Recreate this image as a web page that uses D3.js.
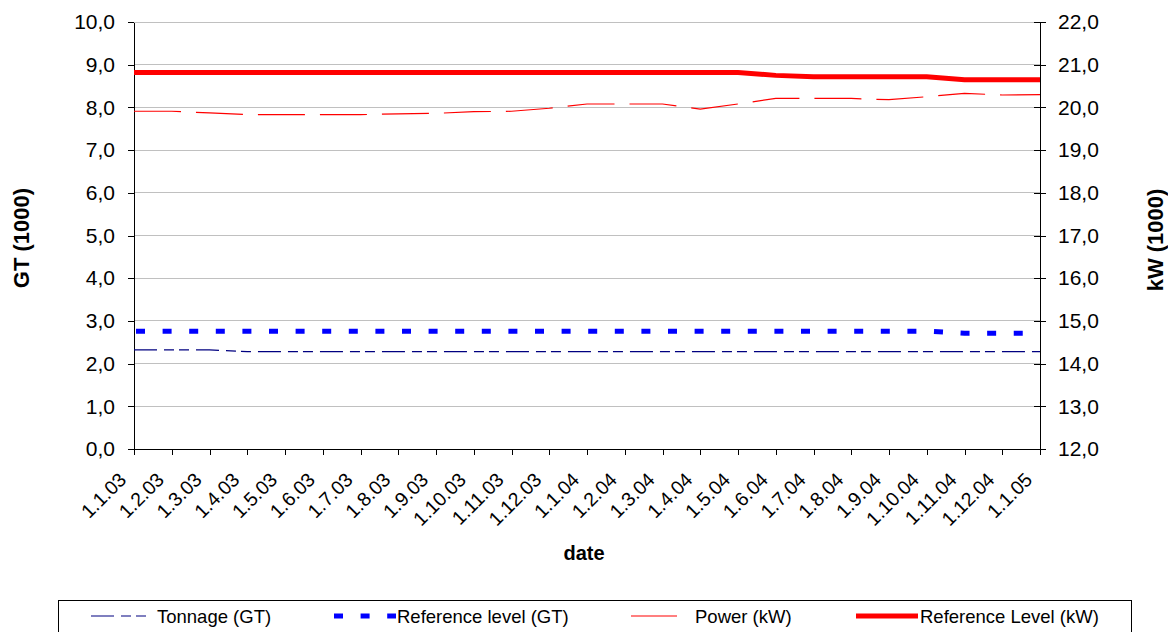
<!DOCTYPE html>
<html><head><meta charset="utf-8">
<script src="https://cdn.jsdelivr.net/npm/d3@7"></script>
<style>
html,body{margin:0;padding:0;background:#fff;}
svg{display:block;font-family:"Liberation Sans",Arial,sans-serif;}
</style></head>
<body>
<svg id="chart" width="1168" height="632"></svg>
<script>
const dates = ["1.1.03","1.2.03","1.3.03","1.4.03","1.5.03","1.6.03","1.7.03","1.8.03","1.9.03","1.10.03","1.11.03","1.12.03",
  "1.1.04","1.2.04","1.3.04","1.4.04","1.5.04","1.6.04","1.7.04","1.8.04","1.9.04","1.10.04","1.11.04","1.12.04","1.1.05"];
const tonnageGT = [2.32,2.32,2.32,2.28,2.28,2.28,2.28,2.28,2.28,2.28,2.28,2.28,2.28,2.28,2.28,2.28,2.28,2.28,2.28,2.28,2.28,2.28,2.28,2.28,2.28];
const referenceGT = [2.76,2.76,2.76,2.76,2.76,2.76,2.76,2.76,2.76,2.76,2.76,2.76,2.76,2.76,2.76,2.76,2.76,2.76,2.76,2.76,2.76,2.76,2.71,2.71,2.71];
const powerKW = [19.91,19.91,19.87,19.83,19.83,19.83,19.83,19.85,19.86,19.90,19.91,19.98,20.08,20.08,20.08,19.96,20.08,20.21,20.21,20.21,20.18,20.25,20.33,20.29,20.30];
const referenceKW = [20.82,20.82,20.82,20.82,20.82,20.82,20.82,20.82,20.82,20.82,20.82,20.82,20.82,20.82,20.82,20.82,20.82,20.75,20.72,20.72,20.72,20.72,20.65,20.65,20.65];
const leftTicks = [0,1,2,3,4,5,6,7,8,9,10];
const rightTicks = [12,13,14,15,16,17,18,19,20,21,22];
const legendLabels = ["Tonnage (GT)","Reference level (GT)","Power (kW)","Reference Level (kW)"];

const svg = d3.select("#chart");
const L = 134, R = 1040, T = 22, B = 449;
const fmt = v => d3.format(".1f")(v).replace(".", ",");
const FONT = '"Liberation Sans",Arial,sans-serif';

const x = d3.scalePoint().domain(dates).range([L, R]);
const yL = d3.scaleLinear().domain([0, 10]).range([B, T]);
const yR = d3.scaleLinear().domain([12, 22]).range([B, T]);

// gridlines
svg.append("g").selectAll("line").data(leftTicks).join("line")
  .attr("x1", L).attr("x2", R)
  .attr("y1", d => yL(d)).attr("y2", d => yL(d))
  .attr("stroke", "#c0c0c0").attr("stroke-width", 1)
  .attr("shape-rendering", "crispEdges");

// left axis
const gL = svg.append("g").attr("transform", `translate(${L},0)`)
  .call(d3.axisLeft(yL).tickValues(leftTicks).tickFormat(fmt).tickSize(6).tickSizeOuter(0).tickPadding(13));
// right axis
const gR = svg.append("g").attr("transform", `translate(${R},0)`)
  .call(d3.axisRight(yR).tickValues(rightTicks).tickFormat(fmt).tickSize(6).tickSizeOuter(0).tickPadding(12));
gR.selectAll(".tick line").attr("x1", -6);
// bottom axis
const gB = svg.append("g").attr("transform", `translate(0,${B})`)
  .call(d3.axisBottom(x).tickSize(6).tickSizeOuter(0));
gB.selectAll(".tick text")
  .attr("text-anchor", "end")
  .attr("x", 0).attr("y", 0).attr("dy", 0).attr("dx", 0)
  .attr("transform", "translate(-7,32) rotate(-45)");

[gL, gR, gB].forEach(g => {
  g.selectAll("path, line").attr("stroke", "#000").attr("shape-rendering", "crispEdges");
  g.selectAll("text").attr("fill", "#000").style("font-family", FONT);
});
gL.selectAll("text").style("font-size", "21px");
gR.selectAll("text").style("font-size", "21px");
gB.selectAll("text").style("font-size", "19.5px");

// series
const lineL = d3.line().x((d, i) => x(dates[i])).y(d => yL(d));
const lineR = d3.line().x((d, i) => x(dates[i])).y(d => yR(d));

svg.append("path").datum(tonnageGT).attr("d", lineL)
  .attr("fill", "none").attr("stroke", "#000080").attr("stroke-width", 1.2)
  .attr("stroke-dasharray", "23,7,10,5,10,7");
svg.append("path").datum(referenceGT).attr("d", lineL)
  .attr("fill", "none").attr("stroke", "#0000ff").attr("stroke-width", 5)
  .attr("stroke-dasharray", "9,17.6").attr("stroke-dashoffset", "-2");
svg.append("path").datum(powerKW).attr("d", lineR)
  .attr("fill", "none").attr("stroke", "#ff0000").attr("stroke-width", 1.2)
  .attr("stroke-dasharray", "47,15");
svg.append("path").datum(referenceKW).attr("d", lineR)
  .attr("fill", "none").attr("stroke", "#ff0000").attr("stroke-width", 5);

// axis titles
svg.append("text").attr("transform", "translate(29,238) rotate(-90)")
  .attr("text-anchor", "middle").style("font-size", "22px").style("font-weight", "bold").text("GT (1000)");
svg.append("text").attr("transform", "translate(1163,240) rotate(-90)")
  .attr("text-anchor", "middle").style("font-size", "22px").style("font-weight", "bold").text("kW (1000)");
svg.append("text").attr("x", 584).attr("y", 560)
  .attr("text-anchor", "middle").style("font-size", "20px").style("font-weight", "bold").text("date");

// legend
const lg = svg.append("g");
lg.append("rect").attr("x", 58.5).attr("y", 600.5).attr("width", 1073).attr("height", 40)
  .attr("fill", "#fff").attr("stroke", "#000").attr("stroke-width", 1);
const ly = 616;
const items = [
  {x1: 91, x2: 146, tx: 157, stroke: "#000080", w: 1.2, dash: "23,7,10,5,10,7"},
  {x1: 334, x2: 396, tx: 397, stroke: "#0000ff", w: 5, dash: "9,17.6"},
  {x1: 631, x2: 677, tx: 695, stroke: "#ff0000", w: 1.2, dash: null},
  {x1: 856, x2: 918, tx: 920, stroke: "#ff0000", w: 5, dash: null}
];
items.forEach((it, i) => {
  const l = lg.append("line").attr("x1", it.x1).attr("x2", it.x2).attr("y1", ly).attr("y2", ly)
    .attr("stroke", it.stroke).attr("stroke-width", it.w);
  if (it.dash) l.attr("stroke-dasharray", it.dash);
  lg.append("text").attr("x", it.tx).attr("y", ly + 6.5).style("font-size", "18.5px").text(legendLabels[i]);
});
</script>
</body></html>
